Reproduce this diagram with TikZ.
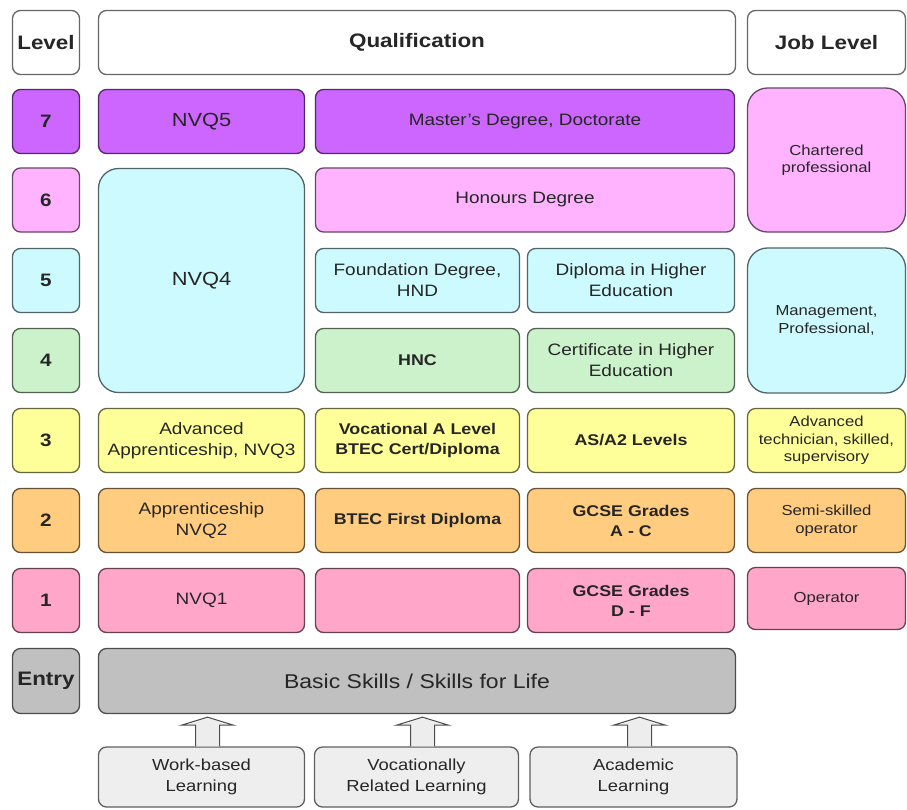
\documentclass[tikz,border=0pt]{standalone}
\usepackage{fontspec}
\setmainfont{Liberation Sans}[FakeStretch=1.15]
\usetikzlibrary{calc}

\definecolor{lvseven}{HTML}{CC66FF}
\definecolor{lvsix}{HTML}{FFB3FF}
\definecolor{lvfive}{HTML}{CCFAFF}
\definecolor{lvfour}{HTML}{CCF2CC}
\definecolor{lvthree}{HTML}{FFFF99}
\definecolor{lvtwo}{HTML}{FFCC80}
\definecolor{lvone}{HTML}{FFA6C9}
\definecolor{lventry}{HTML}{C0C0C0}
\definecolor{lvroute}{HTML}{EEEEEE}

\tikzset{
  cell/.style={draw=#1!40!black, fill=#1, line width=1.3pt, rounded corners=8pt,
    align=center, inner sep=2pt, text=black!85, minimum height=64pt},
  big/.style={rounded corners=20pt},
  colL/.style={minimum width=67pt},
  colA/.style={minimum width=206pt},
  colB/.style={minimum width=204pt},
  colC/.style={minimum width=207pt},
  colBC/.style={minimum width=419pt},
  colJ/.style={minimum width=158pt},
  head/.style={font=\bfseries\fontsize{19.5}{22}\selectfont},
  num/.style={font=\bfseries\fontsize{18}{21}\selectfont},
  nvq/.style={font=\fontsize{19}{22}\selectfont},
  mid/.style={font=\fontsize{16.5}{21}\selectfont},
  midbold/.style={font=\bfseries\fontsize{15.5}{20}\selectfont},
  job/.style={font=\fontsize{14.5}{17.5}\selectfont},
  route/.style={font=\fontsize{16}{21}\selectfont},
  blockarrow/.style={draw=black!70, fill=black!7, line width=1pt}
}

\begin{document}
\begin{tikzpicture}[x=1pt,y=-1pt]
  \useasboundingbox (0,0) rectangle (907,809);

  % header
  \node[cell=white,colL,head] (lvh) at (46,42.5) {Level};
  \node[cell=white,minimum width=637pt,head] (quh) at (417,42.5) {Qualification};
  \node[cell=white,colJ,head] (jobh) at (826.5,42.5) {Job Level};

  % level 7
  \node[cell=lvseven,colL,num] (lv7) at (46,121.5) {7};
  \node[cell=lvseven,colA,nvq] (nvq5) at (201.5,121.5) {NVQ5};
  \node[cell=lvseven,colBC,mid] (mast) at (525,121.5) {Master's Degree, Doctorate};
  \node[cell=lvsix,colJ,job,big,minimum height=144pt] (chart) at (826.5,160) {Chartered\\professional};

  % level 6
  \node[cell=lvsix,colL,num] (lv6) at (46,200) {6};
  \node[cell=lvfive,colA,nvq,big,minimum height=224pt] (nvq4) at (201.5,280.5) {NVQ4};
  \node[cell=lvsix,colBC,mid] (hons) at (525,200) {Honours Degree};

  % level 5
  \node[cell=lvfive,colL,num] (lv5) at (46,280.5) {5};
  \node[cell=lvfive,colB,mid] (fdeg) at (417.5,280.5) {Foundation Degree,\\HND};
  \node[cell=lvfive,colC,mid] (dhe) at (631,280.5) {Diploma in Higher\\Education};
  \node[cell=lvfive,colJ,job,big,minimum height=145pt] (mgmt) at (826.5,320.5) {Management,\\Professional,};

  % level 4
  \node[cell=lvfour,colL,num] (lv4) at (46,360.5) {4};
  \node[cell=lvfour,colB,midbold] (hnc) at (417.5,360.5) {HNC};
  \node[cell=lvfour,colC,mid] (che) at (631,360.5) {Certificate in Higher\\Education};

  % level 3
  \node[cell=lvthree,colL,num] (lv3) at (46,440.5) {3};
  \node[cell=lvthree,colA,mid] (advapp) at (201.5,440.5) {Advanced\\Apprenticeship, NVQ3};
  \node[cell=lvthree,colB,midbold] (voca) at (417.5,440.5) {Vocational A Level\\BTEC Cert/Diploma};
  \node[cell=lvthree,colC,midbold] (asa2) at (631,440.5) {AS/A2 Levels};
  \node[cell=lvthree,colJ,job] (advtech) at (826.5,440.5) {Advanced\\technician, skilled,\\supervisory};

  % level 2
  \node[cell=lvtwo,colL,num] (lv2) at (46,520.5) {2};
  \node[cell=lvtwo,colA,mid] (app2) at (201.5,520.5) {Apprenticeship\\NVQ2};
  \node[cell=lvtwo,colB,midbold] (btec) at (417.5,520.5) {BTEC First Diploma};
  \node[cell=lvtwo,colC,midbold] (gcac) at (631,520.5) {GCSE Grades\\A - C};
  \node[cell=lvtwo,colJ,job] (semi) at (826.5,520.5) {Semi-skilled\\operator};

  % level 1
  \node[cell=lvone,colL,num] (lv1) at (46,600.5) {1};
  \node[cell=lvone,colA,mid] (nvq1) at (201.5,600.5) {NVQ1};
  \node[cell=lvone,colB,mid] (blank1) at (417.5,600.5) {};
  \node[cell=lvone,colC,midbold] (gcdf) at (631,600.5) {GCSE Grades\\D - F};
  \node[cell=lvone,colJ,job,minimum height=62pt] (oper) at (826.5,598.5) {Operator};

  % entry
  \node[cell=lventry,colL,head,minimum height=65pt] (lve) at (46,681) {Entry};
  \node[cell=lventry,minimum width=637pt,minimum height=65pt,font=\fontsize{20}{24}\selectfont] (basic) at (417,681) {Basic Skills / Skills for Life};

  % routes in
  \node[cell=lvroute,colA,route,minimum height=60pt] (wbl) at (201.5,777) {Work-based\\Learning};
  \node[cell=lvroute,colB,route,minimum height=60pt] (vrl) at (416.5,777) {Vocationally\\Related Learning};
  \node[cell=lvroute,colC,route,minimum height=60pt] (acl) at (633.5,777) {Academic\\Learning};

  \foreach \r in {wbl,vrl,acl}
    \draw[blockarrow] ($(\r.north)+(-6,0)$) -- ($(\r.north |- basic.south)+(-6,11)$)
      -- ++(-14,0) -- ($(\r.north |- basic.south)+(6,3)$) -- ++(26,8) -- ++(-14,0)
      -- ($(\r.north)+(18,0)$);

\end{tikzpicture}
\end{document}
